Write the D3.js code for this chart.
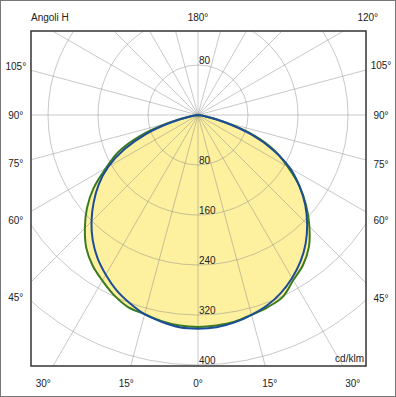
<!DOCTYPE html>
<html>
<head>
<meta charset="utf-8">
<script src="https://cdn.jsdelivr.net/npm/d3@7"></script>
<style>
  body { margin: 0; background: #fff; }
  svg text { font-family: "Liberation Sans", Arial, sans-serif; font-size: 10px; fill: #222; }
</style>
</head>
<body>
<svg id="chart" width="396" height="397"></svg>
<script>
// angles from nadir (deg); left half goes to the left of 0°, right half to the right
const angles = [0, 5, 10, 15, 20, 25, 30, 35, 40, 45, 50, 55, 60, 65, 70, 75, 80, 85, 90]
const blueLeft = [342, 341, 336, 330, 320, 309, 295, 280, 262, 241, 218, 194, 166, 130, 88, 43, 11, 0, 0]
const blueRight = [342, 341, 337, 331, 324, 314, 301, 286, 268, 247, 224, 198, 170, 133, 90, 43, 11, 0, 0]
const greenLeft = [339, 338, 335, 330, 327, 318, 306, 294, 278, 256, 232, 204, 170, 141, 99, 48, 12, 0, 0]
const greenRight = [339, 338, 336, 331, 327, 321, 305, 293, 276, 252, 226, 198, 166, 136, 96, 46, 12, 0, 0]

const ringTicks = [80, 160, 240, 320, 400]
const rayAngles = d3.range(0, 360, 15)
const sideLabels = [45, 60, 75, 90, 105]
const bottomLabels = [-30, -15, 0, 15, 30]
const topLabels = [180, 120]

const W = 396, H = 397
const cx = 198, cy = 115
const frame = { x0: 31, y0: 31, x1: 366, y1: 366 }
const labelBox = { x0: 15.8, y0: 17, x1: 381, y1: 383 }

const svg = d3.select("#chart")
const r = d3.scaleLinear().domain([0, 400]).range([0, 250])
const rad = d => d * Math.PI / 180

// outer border
svg.append("rect")
  .attr("x", 0.5).attr("y", 0.5)
  .attr("width", W - 1).attr("height", H - 1)
  .attr("fill", "#fff").attr("stroke", "#777")

svg.append("defs").append("clipPath").attr("id", "frame-clip")
  .append("rect")
  .attr("x", frame.x0).attr("y", frame.y0)
  .attr("width", frame.x1 - frame.x0).attr("height", frame.y1 - frame.y0)

const plot = svg.append("g").attr("clip-path", "url(#frame-clip)")
const g = plot.append("g").attr("transform", `translate(${cx},${cy})`)

// full curve -90..90 from the two half arrays
function fullCurve(leftVals, rightVals) {
  const left = angles.map((a, i) => [-a, leftVals[i]]).reverse()
  const right = angles.slice(1).map((a, i) => [a, rightVals[i + 1]])
  return left.concat(right)
}

const line = d3.lineRadial()
  .angle(d => Math.PI - rad(d[0]))
  .radius(d => r(d[1]))
  .curve(d3.curveCatmullRomClosed.alpha(0.5))

const greenPath = line(fullCurve(greenLeft, greenRight))
const bluePath = line(fullCurve(blueLeft, blueRight))

// yellow fill
g.append("path")
  .attr("d", greenPath)
  .attr("fill", "#fdf09e")

// grid: rings
const grid = g.append("g").attr("fill", "none").attr("stroke", "#8c8c8c").attr("stroke-opacity", 0.6).attr("stroke-width", 0.8)
grid.selectAll("circle")
  .data(ringTicks)
  .enter().append("circle")
  .attr("r", d => r(d))

// grid: rays
grid.selectAll("line")
  .data(rayAngles)
  .enter().append("line")
  .attr("x1", 0).attr("y1", 0)
  .attr("x2", d => 400 * Math.sin(rad(d)))
  .attr("y2", d => 400 * Math.cos(rad(d)))

// curves
g.append("path")
  .attr("d", greenPath)
  .attr("fill", "none").attr("stroke", "#3b7a1e").attr("stroke-width", 2)
g.append("path")
  .attr("d", bluePath)
  .attr("fill", "none").attr("stroke", "#1d4d99").attr("stroke-width", 2)

// ring labels
const ringLabelData = []
ringTicks.forEach(v => {
  ringLabelData.push({ v, y: r(v) })
  if (cy - r(v) > frame.y0 + 8) ringLabelData.push({ v, y: -r(v) })
})
g.selectAll(".ring-label")
  .data(ringLabelData)
  .enter().append("text")
  .attr("class", "ring-label")
  .attr("x", 1)
  .attr("y", d => d.y - 1)
  .text(d => d.v)

// frame
svg.append("rect")
  .attr("x", frame.x0).attr("y", frame.y0)
  .attr("width", frame.x1 - frame.x0).attr("height", frame.y1 - frame.y0)
  .attr("fill", "none").attr("stroke", "#333").attr("stroke-width", 1.5)

// angle labels where each ray meets the label box
function rayHit(deg, side) {
  const s = Math.sin(rad(deg)), c = Math.cos(rad(deg))
  if (side === "left") { const t = (cx - labelBox.x0) / Math.abs(s); return [labelBox.x0, cy + t * c] }
  if (side === "right") { const t = (labelBox.x1 - cx) / Math.abs(s); return [labelBox.x1, cy + t * c] }
  if (side === "bottom") { const t = (labelBox.y1 - cy) / c; return [cx + t * s, labelBox.y1] }
  const t = (cy - labelBox.y0) / -c; return [cx + t * s, labelBox.y0]
}

const angleLabels = []
sideLabels.forEach(a => {
  angleLabels.push({ text: a + "°", p: rayHit(-a, "left") })
  angleLabels.push({ text: a + "°", p: rayHit(a, "right") })
})
bottomLabels.forEach(a => angleLabels.push({ text: Math.abs(a) + "°", p: rayHit(a, "bottom") }))
topLabels.forEach(a => angleLabels.push({ text: a + "°", p: rayHit(a, "top") }))

svg.selectAll(".angle-label")
  .data(angleLabels)
  .enter().append("text")
  .attr("class", "angle-label")
  .attr("x", d => d.p[0])
  .attr("y", d => d.p[1])
  .attr("text-anchor", "middle")
  .attr("dominant-baseline", "central")
  .text(d => d.text)

svg.append("text")
  .attr("x", frame.x0).attr("y", labelBox.y0)
  .attr("dominant-baseline", "central")
  .text("Angoli H")

svg.append("text")
  .attr("x", frame.x1 - 2).attr("y", frame.y1 - 4)
  .attr("text-anchor", "end")
  .text("cd/klm")
</script>
</body>
</html>
